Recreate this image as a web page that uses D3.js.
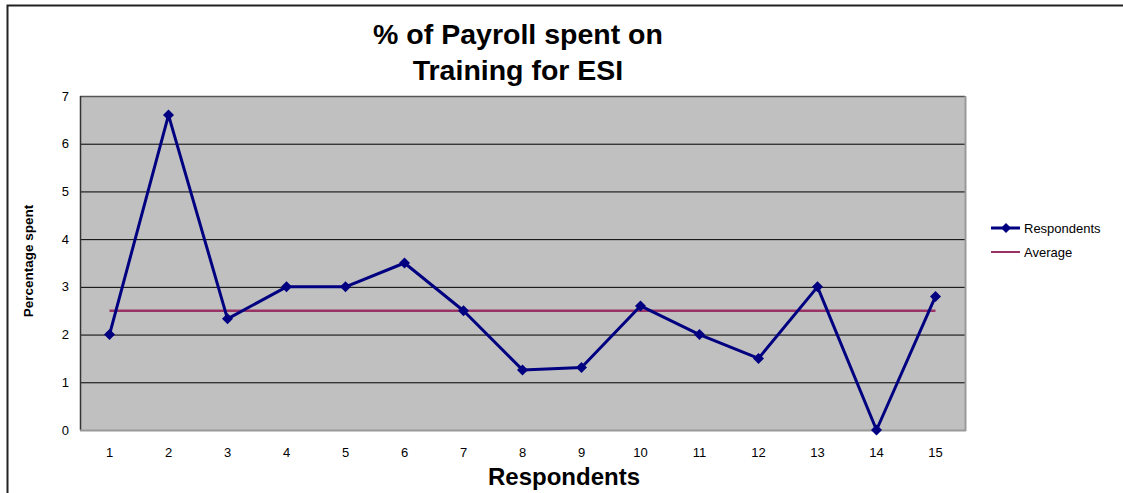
<!DOCTYPE html>
<html><head><meta charset="utf-8">
<script src="https://cdn.jsdelivr.net/npm/d3@7"></script>
<style>body{margin:0;background:#fff}svg{display:block}text{font-family:"Liberation Sans",Arial,sans-serif}</style>
</head><body><svg id="c" width="1123" height="493"></svg>
<script>
const categories = ["1","2","3","4","5","6","7","8","9","10","11","12","13","14","15"];
const respondents = [2.0,6.6,2.33,3.0,3.0,3.5,2.5,1.26,1.31,2.6,2.0,1.5,3.0,0,2.8];
const average = [2.5,2.5,2.5,2.5,2.5,2.5,2.5,2.5,2.5,2.5,2.5,2.5,2.5,2.5,2.5];
const yTicks = [0,1,2,3,4,5,6,7];
const seriesNames = ["Respondents","Average"];

const svg = d3.select("#c");
const m = {l:80, r:965, t:96, b:430};
const x = d3.scaleBand().domain(categories).range([m.l, m.r]);
const y = d3.scaleLinear().domain([0,7]).range([m.b, m.t]);
const cx = d => x(d) + x.bandwidth()/2;

// outer border (left/top visible)
svg.append("path").attr("d","M7.5,493 L7.5,5.5 L1123,5.5").attr("fill","none").attr("stroke","#222").attr("stroke-width",2);

// plot area
svg.append("rect").attr("x",m.l).attr("y",m.t).attr("width",m.r-m.l).attr("height",m.b-m.t).attr("fill","#c0c0c0");
// gridlines
svg.append("g").selectAll("line").data(yTicks.filter(t=>t>0 && t<7)).join("line")
  .attr("x1",m.l).attr("x2",m.r).attr("y1",d=>y(d)+0.5).attr("y2",d=>y(d)+0.5).attr("stroke","#000").attr("stroke-width",1);
// plot border
svg.append("line").attr("x1",m.l).attr("x2",m.r).attr("y1",m.t+0.5).attr("y2",m.t+0.5).attr("stroke","#555").attr("stroke-width",1.5);
svg.append("line").attr("x1",m.l+0.5).attr("x2",m.l+0.5).attr("y1",m.t).attr("y2",m.b).attr("stroke","#333").attr("stroke-width",1.5);
svg.append("line").attr("x1",m.r+0.5).attr("x2",m.r+0.5).attr("y1",m.t).attr("y2",m.b+1).attr("stroke","#999").attr("stroke-width",2);
svg.append("line").attr("x1",m.l).attr("x2",m.r+1).attr("y1",m.b+0.5).attr("y2",m.b+0.5).attr("stroke","#999").attr("stroke-width",2);

// y tick labels
svg.append("g").selectAll("text").data(yTicks).join("text")
  .attr("x",69).attr("y",d=>y(d)+4.5).attr("text-anchor","end").attr("font-size",13).attr("fill","#000").text(d=>d);
// x tick labels
svg.append("g").selectAll("text").data(categories).join("text")
  .attr("x",d=>cx(d)).attr("y",457).attr("text-anchor","middle").attr("font-size",13).attr("fill","#000").text(d=>d);

// average line
const line = d3.line().x((d,i)=>cx(categories[i])).y(d=>y(d));
svg.append("path").datum(average).attr("d",line).attr("fill","none").attr("stroke","#993366").attr("stroke-width",2.5);
// respondents line
svg.append("path").datum(respondents).attr("d",line).attr("fill","none").attr("stroke","#000080").attr("stroke-width",3).attr("stroke-linejoin","round");
const diamond = (px,py,s) => `M${px},${py-s} L${px+s},${py} L${px},${py+s} L${px-s},${py} Z`;
svg.append("g").selectAll("path").data(respondents).join("path")
  .attr("d",(d,i)=>diamond(cx(categories[i]),y(d),5.5)).attr("fill","#000080");

// title
const title = svg.append("text").attr("x",518).attr("text-anchor","middle").attr("font-size",28.5).attr("font-weight","bold").attr("fill","#000");
title.append("tspan").attr("x",518).attr("y",44).text("% of Payroll spent on");
title.append("tspan").attr("x",518).attr("y",80).text("Training for ESI");

// axis titles
svg.append("text").attr("transform","translate(33,261) rotate(-90)").attr("text-anchor","middle").attr("font-size",13.5).attr("font-weight","bold").text("Percentage spent");
svg.append("text").attr("x",564).attr("y",485).attr("text-anchor","middle").attr("font-size",24).attr("font-weight","bold").text("Respondents");

// legend
const lg = svg.append("g");
const ly = [228, 252];
lg.append("line").attr("x1",991).attr("x2",1020).attr("y1",ly[0]).attr("y2",ly[0]).attr("stroke","#000080").attr("stroke-width",3);
lg.append("path").attr("d",diamond(1006,ly[0],5)).attr("fill","#000080");
lg.append("line").attr("x1",991).attr("x2",1020).attr("y1",ly[1]).attr("y2",ly[1]).attr("stroke","#993366").attr("stroke-width",2);
lg.selectAll("text").data(seriesNames).join("text").attr("x",1024).attr("y",(d,i)=>ly[i]+4.5).attr("font-size",13).text(d=>d);
</script></body></html>
